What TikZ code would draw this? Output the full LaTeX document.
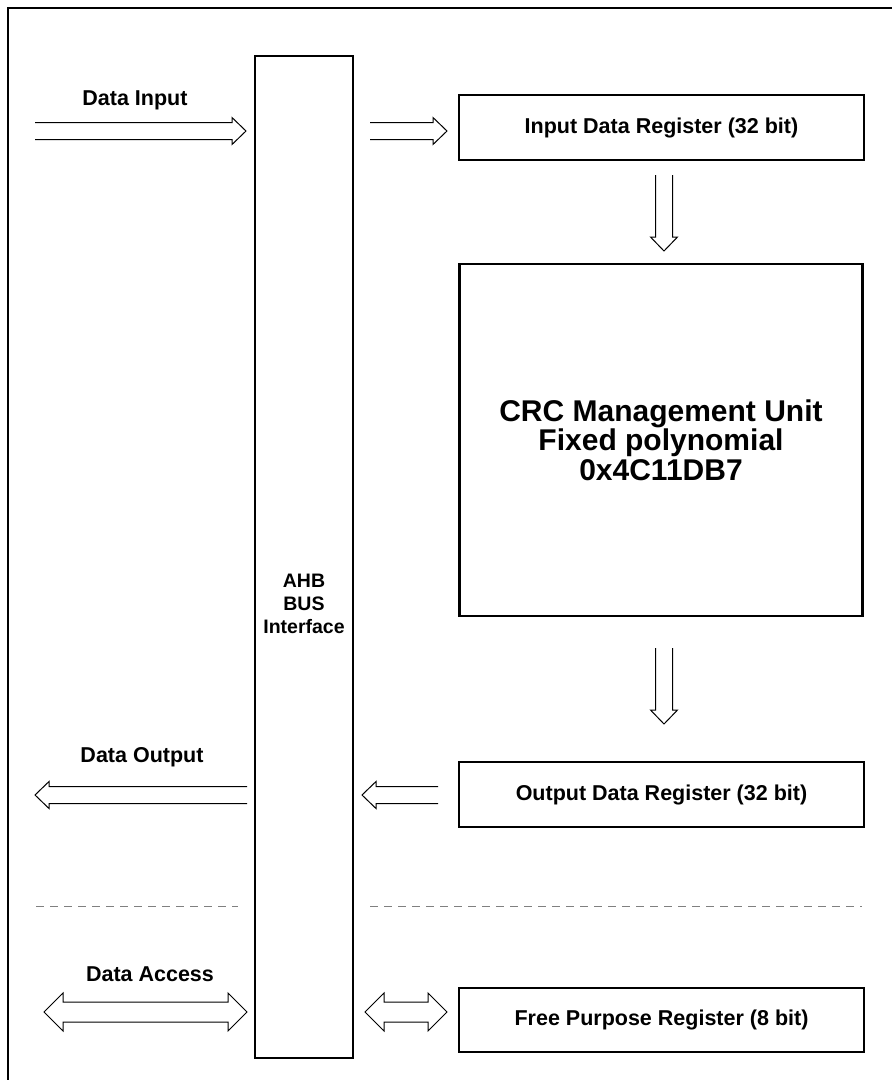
\documentclass[tikz,border=0pt]{standalone}
\usepackage{fontspec}
\setmainfont{Liberation Sans}
\usetikzlibrary{calc}
\tikzset{
  regbox/.style={draw, line width=2.8pt, rectangle, inner sep=0pt, font=\bfseries\fontsize{21.5}{24}\selectfont},
  lbl/.style={font=\bfseries\fontsize{21.5}{24}\selectfont, inner sep=0pt},
  blk/.style={draw, line width=1pt, line join=miter},
  sep/.style={draw=gray, line width=1pt, dash pattern=on 8pt off 6pt},
}
\newcommand\blkarrow[2]{%
  \coordinate (hb) at ($(#2)!14pt!(#1)$);
  \draw[blk] ($(#1)!8.5pt!90:(#2)$) -- ($(hb)!8.5pt!-90:(#1)$) -- ($(hb)!13.5pt!-90:(#1)$) -- (#2)
    -- ($(hb)!13.5pt!90:(#1)$) -- ($(hb)!8.5pt!90:(#1)$) -- ($(#1)!8.5pt!-90:(#2)$);}
\newcommand\dblkarrow[2]{%
  \coordinate (ha) at ($(#1)!19pt!(#2)$);
  \coordinate (hb) at ($(#2)!19pt!(#1)$);
  \draw[blk] (#1) -- ($(ha)!19pt!90:(#2)$) -- ($(ha)!10pt!90:(#2)$) -- ($(hb)!10pt!-90:(#1)$)
    -- ($(hb)!19pt!-90:(#1)$) -- (#2) -- ($(hb)!19pt!90:(#1)$) -- ($(hb)!10pt!90:(#1)$)
    -- ($(ha)!10pt!-90:(#2)$) -- ($(ha)!19pt!-90:(#2)$) -- cycle;}
\begin{document}
\begin{tikzpicture}[x=1pt,y=-1pt]
\useasboundingbox (0,0) rectangle (892,1080);
% outer frame (partially visible)
\coordinate (frBL) at (8,1080);
\coordinate (frTL) at (8,8);
\coordinate (frTR) at (892,8);
\draw[line width=1.5pt] (frBL) -- (frTL) -- (frTR);

% AHB bus
\node[regbox, minimum width=98pt, minimum height=1002pt] (ahb) at (304,557) {};
\node[lbl, align=center, font=\bfseries\fontsize{19.5}{23}\selectfont] (ahblabel) at (304,604) {AHB\\BUS\\Interface};

% registers
\node[regbox, minimum width=405pt, minimum height=65pt] (idr) at (661.5,127.5) {Input Data Register (32 bit)};
\node[regbox, minimum width=403pt, minimum height=352pt, align=center,
      font=\bfseries\fontsize{30}{29.5}\selectfont] (crc) at (661,440)
      {CRC Management Unit\\Fixed polynomial\\0x4C11DB7};
\node[regbox, minimum width=405pt, minimum height=65pt] (odr) at (661.5,794.5) {Output Data Register (32 bit)};
\node[regbox, minimum width=405pt, minimum height=64pt] (fpr) at (661.5,1020) {Free Purpose Register (8 bit)};

% labels
\node[lbl] (lin) at (135,100) {Data Input};
\node[lbl] (lout) at (142,757) {Data Output};
\node[lbl] (lacc) at (150,974) {Data Access};

% arrow end points
\coordinate (a1s) at (35,131);  \coordinate (a1t) at (246,131);
\coordinate (a2s) at (370,131); \coordinate (a2t) at (447,131);
\coordinate (a3s) at (664,175); \coordinate (a3t) at (664,251);
\coordinate (a4s) at (664,648); \coordinate (a4t) at (664,724);
\coordinate (a5s) at (247,795); \coordinate (a5t) at (35,795);
\coordinate (a6s) at (438,795); \coordinate (a6t) at (362,795);
\coordinate (a7s) at (44,1012); \coordinate (a7t) at (247,1012);
\coordinate (a8s) at (365,1012); \coordinate (a8t) at (447,1012);

\blkarrow{a1s}{a1t}
\blkarrow{a2s}{a2t}
\blkarrow{a3s}{a3t}
\blkarrow{a4s}{a4t}
\blkarrow{a5s}{a5t}
\blkarrow{a6s}{a6t}
\dblkarrow{a7s}{a7t}
\dblkarrow{a8s}{a8t}

% separators
\coordinate (d1s) at (36,906);  \coordinate (d1e) at (238,906);
\coordinate (d2s) at (370,906); \coordinate (d2e) at (862,906);
\draw[sep] (d1s) -- (d1e);
\draw[sep] (d2s) -- (d2e);
\end{tikzpicture}
\end{document}
